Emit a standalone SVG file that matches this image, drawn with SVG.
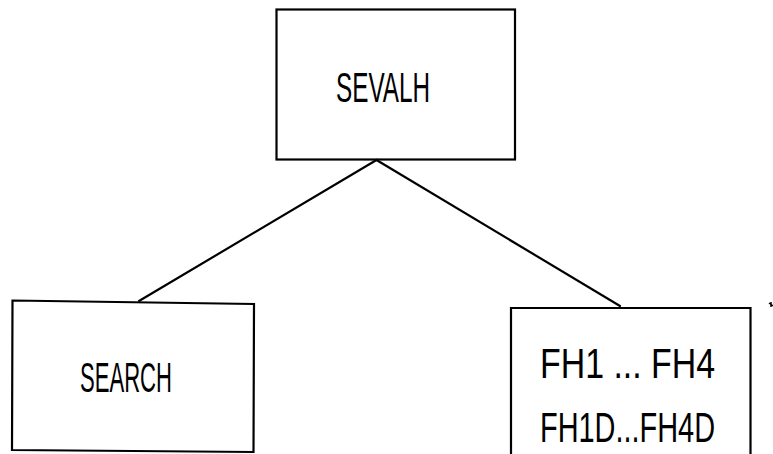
<svg xmlns="http://www.w3.org/2000/svg" width="773" height="454" viewBox="0 0 773 454">
  <style>
    .box { fill: none; stroke: #000; stroke-width: 2.2; }
    .link { fill: none; stroke: #000; stroke-width: 2.2; stroke-linecap: round; }
    .label { font-family: "Liberation Sans", Arial, sans-serif; fill: #000; }
  </style>
  <rect width="773" height="454" fill="#fff"/>

  <g id="connectors">
    <line class="link" x1="376.5" y1="160" x2="139" y2="301"/>
    <line class="link" x1="376.5" y1="160" x2="620" y2="306"/>
  </g>

  <g id="sevalh">
    <rect class="box" x="276.5" y="9.5" width="238.5" height="150"/>
    <text class="label" x="336" y="102" font-size="42" textLength="94" lengthAdjust="spacingAndGlyphs">SEVALH</text>
  </g>

  <g id="search">
    <polygon class="box" points="12.5,300.5 254,304 253.5,452 12,450"/>
    <text class="label" x="80" y="392" font-size="42" textLength="92" lengthAdjust="spacingAndGlyphs">SEARCH</text>
  </g>

  <g id="fh">
    <polyline class="box" points="511,460 511,308 750.5,308 750.5,460"/>
    <text class="label" x="540" y="378" font-size="42" textLength="175" lengthAdjust="spacingAndGlyphs">FH1 ... FH4</text>
    <text class="label" x="540" y="442" font-size="42" textLength="175" lengthAdjust="spacingAndGlyphs">FH1D...FH4D</text>
  </g>

  <!-- small speck to the right of the FH box -->
  <path d="M769,303 l4,3 M771,302 l0,5" stroke="#000" stroke-width="1.5"/>
</svg>
